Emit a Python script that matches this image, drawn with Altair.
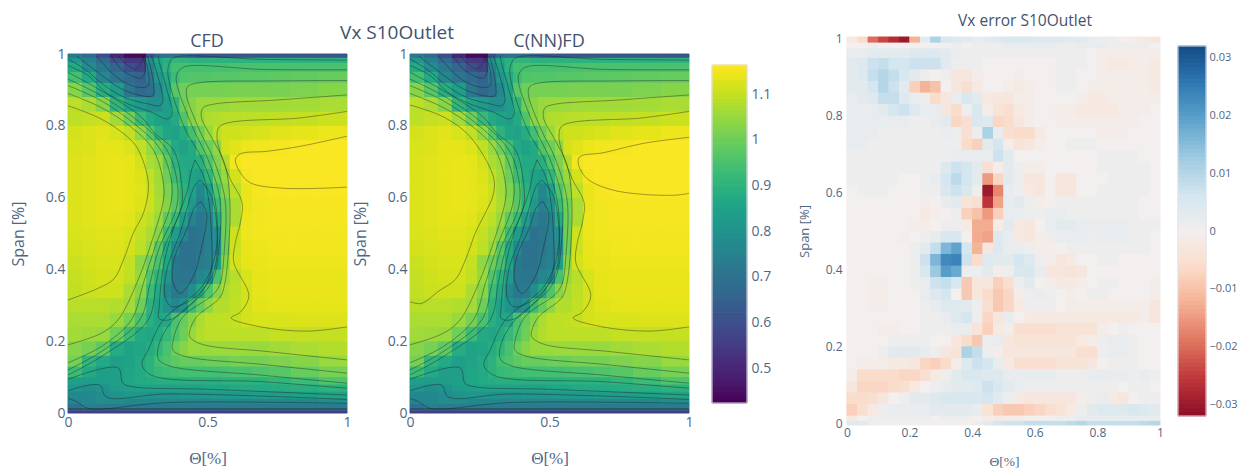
import altair as alt
import pandas as pd

THETA_EDGES = [0,.05,.1,.15,.2,.24,.28,.31,.34,.37,.40,.43,.46,.49,.52,.55,.58,.62,.66,.72,.8,.9,1]
SPAN_EDGES = [0,.006,.012,.025,.04,.06,.08,.1,.13,.16,.2,.24,.28,.32,.36,.4,.44,.48,.52,.56,.6,.64,.68,.72,.76,.8,.84,.88,.92,.95,.975,.99,1]
CFD_ROWS = [
[.56]*22,
[.62]*22,
[.70,.74,.73,.73,.73,.73,.73,.73,.73,.73,.73,.73,.73,.73,.73,.73,.73,.73,.73,.73,.73,.73],
[.75,.77,.78,.78,.77,.77,.77,.76,.76,.76,.76,.76,.76,.76,.76,.77,.77,.77,.77,.77,.77,.78],
[.77,.77,.78,.80,.81,.81,.80,.80,.80,.80,.81,.81,.81,.81,.82,.82,.82,.82,.83,.83,.84,.85],
[.81,.79,.80,.83,.84,.85,.85,.85,.85,.85,.85,.85,.85,.86,.86,.86,.87,.87,.87,.88,.89,.90],
[.84,.83,.83,.84,.86,.87,.88,.89,.89,.89,.89,.89,.89,.89,.89,.90,.90,.90,.90,.91,.93,.96],
[.93,.87,.84,.84,.86,.87,.90,.92,.93,.935,.94,.94,.94,.94,.94,.945,.95,.95,.96,.97,.99,1.01],
[1.01,.91,.87,.84,.85,.87,.90,.94,.96,.98,.99,.99,.99,1.0,1.0,1.0,1.01,1.01,1.01,1.02,1.03,1.05],
[1.03,1.01,.98,.88,.85,.86,.88,.91,.95,1.0,1.03,1.05,1.05,1.05,1.055,1.055,1.055,1.05,1.05,1.06,1.07,1.08],
[1.06,1.055,1.05,1.0,.93,.87,.86,.88,.92,.96,1.0,1.05,1.08,1.09,1.09,1.09,1.09,1.09,1.09,1.1,1.1,1.1],
[1.07,1.07,1.07,1.05,1.01,.95,.89,.86,.87,.95,.99,1.03,1.07,1.09,1.09,1.095,1.10,1.115,1.12,1.12,1.125,1.125],
[1.085,1.085,1.085,1.08,1.06,1.0,.9,.85,.80,.76,.8,.93,.99,1.04,1.08,1.08,1.095,1.115,1.13,1.135,1.135,1.135],
[1.095,1.105,1.11,1.11,1.07,1.03,.93,.87,.77,.72,.73,.78,.87,.96,1.03,1.07,1.09,1.115,1.135,1.14,1.14,1.14],
[1.10,1.11,1.115,1.115,1.095,1.05,.96,.9,.81,.72,.71,.71,.76,.78,.95,1.05,1.085,1.12,1.135,1.14,1.14,1.14],
[1.105,1.115,1.12,1.12,1.10,1.04,1.0,.95,.86,.72,.70,.70,.73,.74,.83,1.03,1.115,1.135,1.14,1.145,1.145,1.145],
[1.115,1.12,1.125,1.125,1.115,1.09,1.05,.97,.87,.77,.70,.70,.71,.74,.78,1.0,1.11,1.14,1.145,1.15,1.15,1.15],
[1.12,1.125,1.13,1.13,1.12,1.10,1.07,1.03,.93,.83,.76,.70,.71,.74,.79,1.0,1.11,1.145,1.15,1.15,1.15,1.15],
[1.125,1.13,1.135,1.135,1.13,1.11,1.09,1.05,.98,.92,.83,.75,.715,.75,.88,1.0,1.07,1.145,1.15,1.155,1.155,1.155],
[1.125,1.13,1.135,1.14,1.135,1.125,1.105,1.07,1.03,.97,.9,.82,.74,.79,.93,1.0,1.07,1.14,1.15,1.155,1.155,1.155],
[1.125,1.13,1.135,1.14,1.135,1.13,1.105,1.065,1.02,.97,.9,.85,.77,.84,.96,1.03,1.09,1.14,1.155,1.16,1.16,1.16],
[1.125,1.13,1.135,1.14,1.135,1.125,1.095,1.06,1.0,.93,.88,.85,.84,.91,1.0,1.05,1.115,1.155,1.16,1.16,1.16,1.16],
[1.125,1.13,1.135,1.14,1.135,1.115,1.07,1.05,.98,.90,.87,.87,.89,.96,1.02,1.08,1.15,1.16,1.16,1.16,1.16,1.16],
[1.12,1.125,1.135,1.135,1.125,1.095,1.05,1.0,.94,.87,.85,.87,.96,1.0,1.04,1.115,1.13,1.145,1.15,1.155,1.16,1.16],
[1.115,1.125,1.13,1.12,1.095,1.04,.97,.90,.86,.85,.88,.94,1.0,1.05,1.09,1.11,1.11,1.115,1.12,1.13,1.135,1.145],
[1.09,1.10,1.105,1.06,1.0,.92,.87,.85,.84,.87,.96,1.03,1.05,1.075,1.08,1.085,1.085,1.09,1.09,1.095,1.10,1.105],
[1.09,1.07,1.03,.91,.85,.82,.79,.79,.83,.90,1.0,1.03,1.05,1.055,1.055,1.055,1.06,1.06,1.06,1.06,1.065,1.07],
[1.03,.97,.89,.83,.72,.67,.69,.76,.85,.97,1.0,1.01,1.01,1.01,1.01,1.01,1.015,1.015,1.015,1.015,1.02,1.03],
[.94,.87,.76,.71,.68,.65,.72,.81,.87,.93,.96,.965,.965,.965,.97,.97,.97,.975,.975,.98,.985,.99],
[.87,.78,.72,.66,.6,.57,.74,.84,.90,.94,.945,.945,.945,.945,.945,.945,.95,.95,.95,.95,.95,.95],
[.81,.74,.68,.60,.54,.54,.78,.86,.89,.91,.905,.9,.9,.9,.9,.9,.9,.9,.9,.9,.9,.9],
[.72,.68,.6,.5,.44,.44,.6,.68,.7,.7,.68,.65,.62,.62,.62,.62,.62,.62,.62,.62,.62,.62],
]

CONTOURS_SHARED = {
"C2": [(0,.19),(.119,.222),(.179,.259),(.246,.361),(.294,.463),(.342,.593),(.342,.64),(.306,.733),(.227,.796),(.119,.851),(0,.89)],
"C3": [(0,.14),(.119,.185),(.227,.259),(.27,.361),(.312,.463),(.366,.575),(.372,.64),(.332,.733),(.239,.805),(.119,.87),(0,.912)],
"C4": [(0,.12),(.119,.171),(.257,.259),(.294,.361),(.324,.454),(.39,.575),(.39,.65),(.354,.733),(.25,.814),(.119,.884),(0,.93)],
"C5": [(0,.106),(.119,.157),(.287,.259),(.316,.361),(.342,.454),(.407,.575),(.407,.64),(.378,.733),(.31,.78),(.263,.824),(.119,.898),(0,.949)],
"T1": [(0,.968),(.072,.94),(.143,.889),(.215,.861),(.299,.838),(.358,.819),(.373,.833),(.352,.907),(.329,.972),(.323,.995)],
"T2": [(0,.986),(.06,.958),(.131,.912),(.203,.879),(.287,.861),(.329,.856),(.34,.87),(.323,.935),(.305,.981),(.299,.995)],
"T3": [(.03,.995),(.06,.977),(.131,.935),(.191,.903),(.263,.884),(.305,.884),(.308,.907),(.293,.972),(.284,.995)],
"T4": [(.102,.995),(.155,.949),(.203,.921),(.257,.907),(.287,.912),(.287,.954),(.272,.995)],
"T5": [(.155,.995),(.191,.958),(.227,.94),(.263,.933),(.277,.954),(.268,.995)],
"T6": [(.179,.995),(.209,.972),(.241,.958),(.263,.977),(.268,.995)],
"R2": [(1,.84),(.833,.822),(.546,.8),(.534,.771),(.546,.725),(.582,.651),(.624,.586),(.618,.531),(.6,.475),(.594,.42),(.648,.327),(.618,.281),(.585,.265),(.689,.24),(.857,.228),(1,.24)],
"R3": [(1,.886),(.75,.872),(.52,.86),(.484,.85),(.478,.824),(.52,.76),(.562,.694),(.58,.593),(.575,.45),(.562,.361),(.545,.322),(.461,.268),(.437,.231),(.436,.2125),(.478,.192),(.717,.171),(1,.148)],
"R4": [(1,.926),(.75,.925),(.47,.92),(.43,.91),(.424,.889),(.47,.79),(.52,.71),(.563,.593),(.56,.45),(.545,.36),(.52,.33),(.412,.268),(.376,.2),(.376,.175),(.418,.158),(.7,.135),(1,.111)],
"R5": [(1,.956),(.7,.957),(.42,.965),(.394,.95),(.388,.926),(.45,.79),(.5,.71),(.545,.593),(.54,.45),(.527,.389),(.497,.343),(.376,.259),(.33,.2),(.323,.152),(.36,.132),(.7,.105),(1,.083)],
"R6": [(1,.983),(.7,.985),(.38,.99),(.364,.975),(.358,.944),(.42,.79),(.479,.71),(.527,.593),(.53,.45),(.48,.352),(.341,.259),(.287,.175),(.265,.135),(.3,.105),(.7,.087),(1,.069)],
"U1": [(.476,.589),(.497,.556),(.479,.463),(.449,.38),(.401,.333),(.375,.37),(.383,.436),(.425,.51),(.455,.575),(.476,.589)],
"U2": [(.473,.649),(.515,.603),(.535,.454),(.515,.38),(.449,.319),(.372,.296),(.348,.324),(.354,.398),(.401,.5),(.455,.635),(.473,.649)],
"U3": [(.455,.705),(.49,.65),(.514,.5),(.503,.37),(.377,.263),(.327,.263),(.327,.296),(.342,.408),(.372,.5),(.425,.612),(.443,.677),(.455,.705)],
"B1": [(0,.094),(.179,.126),(.197,.083),(.233,.073),(.5,.066),(1,.05)],
"B2": [(0,.062),(.113,.078),(.137,.045),(.358,.053),(1,.038)],
"B3": [(0,.041),(.03,.032),(.072,.013),(.358,.029),(1,.027)],
"B4": [(0,.012),(.5,.012),(1,.012)],
}
CONTOURS_CFD = {
"C1": [(0,.315),(.104,.346),(.164,.373),(.2,.429),(.235,.503),(.27,.556),(.288,.64),(.252,.733),(.215,.768),(.119,.819),(0,.856)],
"R1": [(1,.771),(.833,.743),(.713,.729),(.618,.722),(.6,.706),(.618,.669),(.654,.641),(.773,.626),(1,.629)],
}
CONTOURS_NN = {
"C1": [(0,.31),(.04,.305),(.104,.34),(.164,.373),(.2,.429),(.235,.503),(.275,.565),(.299,.61),(.299,.658),(.215,.77),(.119,.825),(0,.858)],
"R1": [(1,.768),(.836,.751),(.693,.725),(.609,.714),(.603,.695),(.633,.654),(.717,.623),(.836,.609),(.956,.607),(1,.612)],
}

ERR_THETA_EDGES = [i / 30 for i in range(31)]
ERR_SPAN_EDGES = [-.005,.006,.02,.05,.08,.11,.14,.17,.2,.23,.26,.29,.32,.35,.38,.41,.44,.47,.5,.53,.56,.59,.62,.65,.68,.71,.74,.77,.8,.83,.86,.89,.92,.95,.975,.99,1.004]
ERR_MILLI = [
[3,3,1,0,0,0,0,0,0,0,0,0,1,3,6,7,7,8,8,8,8,9,10,8,8,8,8,8,9,10],
[-2,0,1,1,1,1,1,1,0,1,1,1,0,-1,-2,-1,-1,0,0,0,1,1,2,2,2,2,2,2,2,2],
[-8,-5,-2,1,2,2,2,2,3,3,3,3,2,-4,-8,-9,-9,-8,-7,-5,-4,-2,1,3,4,4,4,5,4,3],
[-6,-6,-5,-3,0,1,3,3,4,5,5,5,5,6,3,1,-2,-3,-3,-3,-3,-3,-1,1,2,-2,-3,0,1,1],
[-3,-7,-7,-7,-6,-5,-2,0,1,2,3,3,4,7,5,3,2,1,1,1,1,1,1,1,1,1,0,1,1,0],
[-1,-6,-6,-6,-6,-7,-7,-5,-2,1,3,5,5,4,4,2,2,2,2,2,1,1,1,2,2,2,2,1,2,1],
[0,-1,-1,-1,-2,-2,-3,-7,-8,-6,-1,4,7,6,2,-2,-5,-5,-5,-5,-4,-4,-4,-3,0,1,1,1,0,0],
[0,0,0,1,3,3,3,2,1,-3,-4,11,8,1,-1,-3,-3,-3,-3,-3,-3,-3,-5,-5,1,2,2,1,0,0],
[0,0,0,0,1,1,1,1,0,0,-3,-6,-9,1,2,-3,-4,-4,-4,-4,-4,-4,-2,-1,1,2,2,1,0,0],
[0,0,0,-1,-1,0,0,1,1,1,2,2,-4,-8,-2,-1,-5,-5,-5,-5,-4,-4,-4,-4,-1,0,1,0,0,0],
[0,0,0,0,0,0,0,1,1,2,4,6,1,-7,-3,2,0,-2,-2,-2,-2,-2,-2,-2,-2,-2,-2,-2,-1,-3],
[0,0,-1,-1,0,0,0,1,2,4,4,3,1,-5,-9,-7,-2,1,1,1,0,-1,-1,-1,-1,-1,-1,-1,-1,-3],
[0,0,-1,-1,0,0,0,2,4,6,0,-9,-3,-6,-9,-7,-1,1,2,1,0,-1,0,1,1,0,0,0,0,-1],
[0,0,-1,-1,0,0,1,2,7,8,5,-9,-3,-3,-8,-5,1,3,0,-1,-2,-2,-1,0,1,1,0,0,0,-1],
[0,0,0,0,0,0,1,5,13,20,18,1,1,3,-1,1,5,5,2,-3,-3,-4,-3,0,0,0,0,0,0,0],
[0,0,0,0,0,0,1,7,16,23,24,7,-6,4,3,3,6,4,1,-1,-3,-2,0,0,1,1,0,0,0,0],
[0,0,0,0,0,0,1,3,8,16,19,6,-12,-3,4,2,2,1,-1,-1,0,1,1,1,1,1,1,1,1,0],
[0,0,0,0,0,-1,0,1,2,5,5,0,-13,-14,4,2,-2,-3,-1,1,2,2,2,1,2,2,2,1,1,0],
[0,0,0,0,0,0,-1,-1,0,1,1,-2,-13,-13,-1,3,-2,-3,0,2,3,3,2,2,2,2,2,1,1,1],
[0,0,0,0,0,0,0,-2,-1,0,1,-8,-10,-15,-8,2,2,1,1,2,2,1,1,1,1,1,1,1,0,0],
[0,0,0,0,0,0,0,-1,0,2,3,-4,-5,-26,-14,2,3,1,-1,0,1,1,1,1,1,1,1,1,0,0],
[0,1,1,1,0,0,0,1,1,5,7,5,1,-30,-17,2,1,-2,-3,0,-3,-3,0,0,1,1,1,1,1,0],
[1,1,1,1,1,0,0,1,2,6,9,6,3,-15,-7,3,1,-3,-3,0,-3,-3,0,0,0,1,1,1,1,0],
[1,1,1,1,1,1,1,1,1,4,7,6,3,-5,-1,3,1,-1,-1,0,0,0,0,0,1,1,1,1,1,0],
[1,1,1,1,1,1,1,1,1,1,2,2,2,2,7,3,0,0,0,0,0,0,0,0,1,1,1,1,0,0],
[2,2,1,1,1,1,1,1,1,1,1,-6,-8,3,6,-1,-4,-3,-1,0,0,1,1,1,0,0,0,0,0,0],
[2,2,2,1,1,1,1,1,1,2,1,-5,1,11,2,-5,-6,-6,-2,0,0,0,0,0,-1,-1,-1,0,0,0],
[2,2,2,2,2,2,1,1,2,3,-7,-5,5,4,-7,-6,-3,-1,0,0,-1,-1,-1,-1,-1,-1,-1,-1,0,0],
[2,2,2,3,6,7,4,2,2,-3,-6,1,5,-1,-4,-5,-2,-1,0,0,-1,-1,-2,-2,-2,-2,-1,-1,-1,0],
[2,3,4,8,8,4,2,1,-6,-3,2,5,3,-2,-3,-3,-1,-1,0,0,0,0,-1,-2,-2,-1,-1,-1,-1,-1],
[3,3,6,10,7,3,-8,-12,-10,0,-3,-5,-2,0,0,-1,-2,-1,0,0,1,1,0,-1,-1,-1,-1,-1,-1,-2],
[3,4,8,10,8,5,3,1,0,1,-3,-3,-1,0,0,0,-1,0,0,0,1,1,0,0,-1,-1,-1,-1,-1,-2],
[3,4,7,8,6,6,7,7,7,3,1,1,1,0,0,0,0,0,0,0,1,1,1,0,-1,-2,-2,-1,-1,-2],
[2,2,3,3,3,3,4,4,4,3,2,1,1,1,1,1,1,1,1,1,1,1,1,0,-1,-1,-1,-1,-1,-1],
[0,0,1,0,0,0,0,0,0,0,1,0,1,1,1,2,2,2,2,2,1,1,2,2,2,1,1,1,1,0],
[-2,-6,-20,-24,-27,-30,-12,3,11,5,4,3,2,3,4,5,5,5,4,4,4,3,3,2,1,1,0,-1,-2,-3],
]

VX_DOMAIN = [.4234, 1.1635]
ERR_DOMAIN = [-.032, .032]
VX_TICKS = [.5,.6,.7,.8,.9,1,1.1]
ERR_TICKS = [-.03,-.02,-.01,0,.01,.02,.03]
SPAN_TICKS = [0,.2,.4,.6,.8,1]
TICK = "#506784"
FONT = "Open Sans"
LABEL_EXPR = "format(datum.value, '~g')"


def cells(rows, xe, ye, scale=1.0):
    return pd.DataFrame([
        {"x0": xe[c], "x1": xe[c + 1], "y0": ye[r], "y1": ye[r + 1], "v": v * scale}
        for r, row in enumerate(rows) for c, v in enumerate(row)
    ])


def lines(*groups):
    out = []
    for g in groups:
        for name, pts in g.items():
            for i, (a, b) in enumerate(pts):
                out.append({"id": name, "i": i, "a": a, "b": b})
    return pd.DataFrame(out)


def label(text, x, y, size):
    return alt.Chart(pd.DataFrame({"t": [text]})).mark_text(
        font=FONT, fontSize=size, color="#42526f", align="center", baseline="middle"
    ).encode(text="t:N", x=alt.value(x), y=alt.value(y))


def heat(df, xs, ys, cs, xa, ya):
    """Seam-hiding outlines underneath, filled cells on top, both from the same table."""
    pos = dict(
        x=alt.X("x0:Q", scale=xs, axis=xa), x2="x1:Q",
        y=alt.Y("y0:Q", scale=ys, axis=ya), y2="y1:Q",
    )
    under = alt.Chart(df).mark_rect(filled=False, strokeWidth=1).encode(
        stroke=alt.Stroke("v:Q", scale=cs, legend=None), **pos)
    over = alt.Chart(df).mark_rect().encode(
        color=alt.Color("v:Q", scale=cs, legend=None), **pos)
    return [under, over]


def colorbar(domain, scheme, ticks, y_range, bar, width, offset, size, pad):
    """The colour scale itself, sampled along its own domain, with a right-hand axis."""
    lo, hi = domain
    steps = 90
    edges = [lo + (hi - lo) * i / steps for i in range(steps + 1)]
    df = pd.DataFrame({"x0": [0] * steps, "x1": [1] * steps, "y0": edges[:-1], "y1": edges[1:],
                       "v": [(a + b) / 2 for a, b in zip(edges[:-1], edges[1:])]})
    xs = alt.Scale(domain=[0, 1], range=bar, nice=False)
    ys = alt.Scale(domain=domain, range=y_range, nice=False)
    cs = alt.Scale(domain=domain, scheme=scheme)
    ya = alt.Axis(orient="right", values=ticks, labelExpr=LABEL_EXPR, title=None, labelFont=FONT, labelFontSize=size,
                  labelColor=TICK, labelPadding=pad, ticks=False, domain=False, grid=False, offset=offset,
                  labelFlush=False, labelOverlap=False)
    layers = heat(df, xs, ys, cs, None, ya)
    frame = alt.Chart(pd.DataFrame({"a": [lo], "b": [hi], "l": [0], "r": [1]})).mark_rect(
        filled=False, stroke="#e4e1ee", strokeWidth=1
    ).encode(x=alt.X("l:Q", scale=xs, axis=None), x2="r:Q", y=alt.Y("a:Q", scale=ys, axis=ya), y2="b:Q")
    return alt.layer(*layers, frame).properties(width=width, height=388)


def panel(contours, width, extras):
    xs = alt.Scale(domain=[0, 1], range=[0, 279], nice=False)
    ys = alt.Scale(domain=[0, 1], range=[376, 17], nice=False)
    cs = alt.Scale(domain=VX_DOMAIN, scheme="viridis")
    xa = alt.Axis(
        values=[0, .5, 1], format="~g", title="Θ[%]", titleFont="Liberation Serif", titleFontSize=17,
        titleFontWeight="normal", titleColor=TICK, titlePadding=21, labelFont=FONT, labelFontSize=14,
        labelColor=TICK, labelPadding=2, ticks=False, domain=False, grid=False, offset=-12, labelFlush=False)
    ya = alt.Axis(
        values=SPAN_TICKS, format="~g", title="Span [%]", titleFont=FONT, titleFontSize=16,
        titleFontWeight="normal", titleColor=TICK, titlePadding=19, labelFont=FONT, labelFontSize=14,
        labelColor=TICK, labelPadding=3, ticks=False, domain=False, grid=False, labelFlush=False)
    layers = heat(cells(CFD_ROWS, THETA_EDGES, SPAN_EDGES), xs, ys, cs, xa, ya)
    line = alt.Chart(lines(CONTOURS_SHARED, contours)).mark_line(
        interpolate="catmull-rom", color="#1a1a1a", opacity=.45, strokeWidth=.9
    ).encode(
        x=alt.X("a:Q", scale=xs, axis=xa), y=alt.Y("b:Q", scale=ys, axis=ya),
        detail="id:N", order="i:Q",
    )
    return alt.layer(*layers, line, *extras).properties(width=width, height=388)


p1 = panel(CONTOURS_CFD, 342, [label("CFD", 139, 5, 18), label("Vx S10Outlet", 329, -4, 19)])
p2 = panel(CONTOURS_NN, 302, [label("C(NN)FD", 139, 5, 18)])
bar1 = colorbar(VX_DOMAIN, "viridis", VX_TICKS, [366, 28], [0, 35], 133, -98, 14, 4)

ex = alt.Scale(domain=[-.006, 1.0096], nice=False)
ey = alt.Scale(domain=[-.005, 1.004], nice=False)
ec = alt.Scale(domain=ERR_DOMAIN, scheme="redblue")
exa = alt.Axis(
    values=[0, .2, .4, .6, .8, 1], format="~g", title="Θ[%]", titleFont="Liberation Serif", titleFontSize=13.5,
    titleFontWeight="normal", titleColor=TICK, titlePadding=16, labelFont=FONT, labelFontSize=12,
    labelColor=TICK, labelPadding=2, ticks=False, domain=False, grid=False, labelFlush=False)
eya = alt.Axis(
    values=SPAN_TICKS, format="~g", title="Span [%]", titleFont=FONT, titleFontSize=13,
    titleFontWeight="normal", titleColor=TICK, titlePadding=14, labelFont=FONT, labelFontSize=12,
    labelColor=TICK, labelPadding=3, ticks=False, domain=False, grid=False, labelFlush=False)
p3 = alt.layer(
    *heat(cells(ERR_MILLI, ERR_THETA_EDGES, ERR_SPAN_EDGES, .001), ex, ey, ec, exa, eya),
    label("Vx error S10Outlet", 180, -16, 15.5),
).properties(width=318, height=388)
bar2 = colorbar(ERR_DOMAIN, "redblue", ERR_TICKS, [379, 9], [15, 43], 43, 0, 11, 3)

chart = alt.hconcat(p1, p2, bar1, p3, bar2, spacing=0, bounds="flush").resolve_scale(
    color="independent", stroke="independent"
).properties(
    padding={"left": 2, "top": 6, "right": 0, "bottom": 0}, background="white"
).configure_view(stroke=None)

chart.save("out.html", embed_options={"renderer": "svg", "actions": False})
